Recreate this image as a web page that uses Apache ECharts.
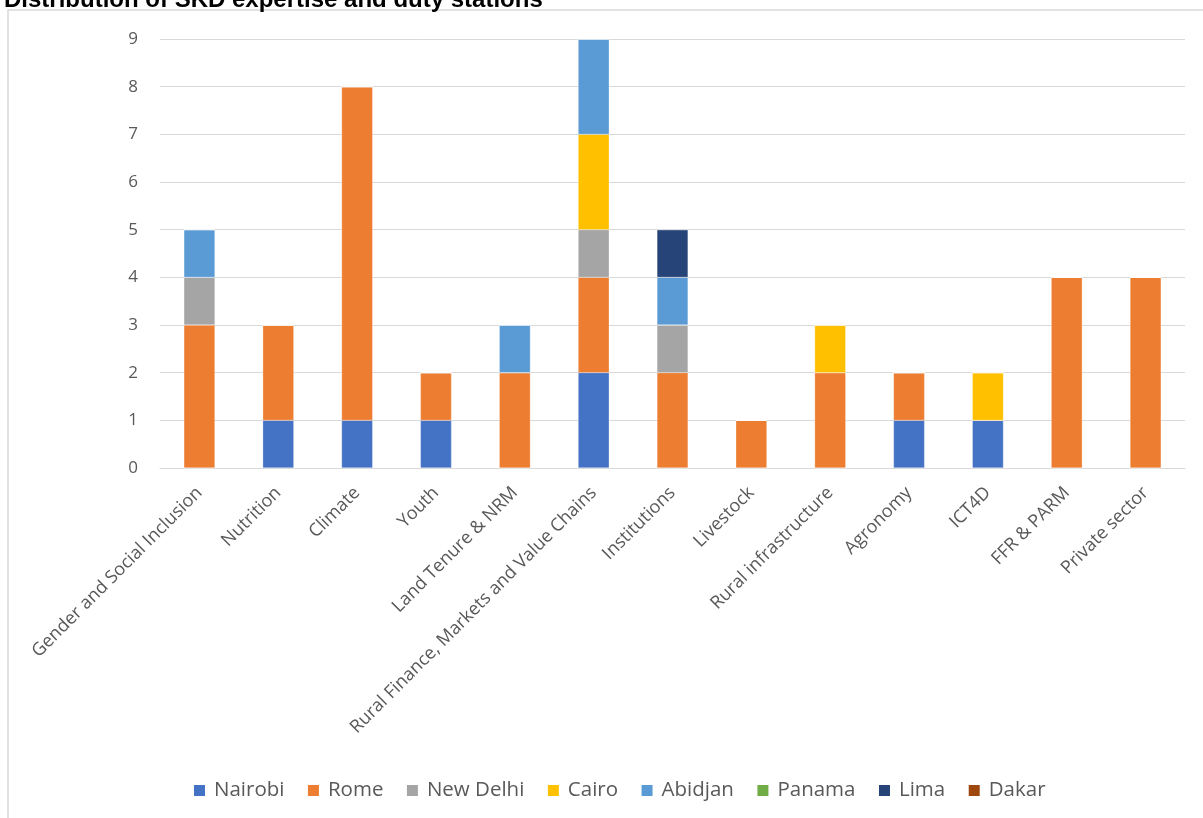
<!DOCTYPE html>
<html>
<head>
<meta charset="utf-8">
<script src="https://cdn.jsdelivr.net/npm/echarts@6/dist/echarts.min.js"></script>
<style>
  html, body { margin: 0; padding: 0; background: #fff; }
  #chart { width: 1203px; height: 818px; }
</style>
</head>
<body>
<div id="chart"></div>
<script>
// categories (areas of expertise)
let categories = ['Gender and Social Inclusion', 'Nutrition', 'Climate', 'Youth', 'Land Tenure & NRM',
    'Rural Finance, Markets and Value Chains', 'Institutions', 'Livestock', 'Rural infrastructure',
    'Agronomy', 'ICT4D', 'FFR & PARM', 'Private sector'];

// duty stations, one array each
let nairobi   = [0, 1, 1, 1, 0, 2, 0, 0, 0, 1, 1, 0, 0];
let rome      = [3, 2, 7, 1, 2, 2, 2, 1, 2, 1, 0, 4, 4];
let newDelhi  = [1, 0, 0, 0, 0, 1, 1, 0, 0, 0, 0, 0, 0];
let cairo     = [0, 0, 0, 0, 0, 2, 0, 0, 1, 0, 1, 0, 0];
let abidjan   = [1, 0, 0, 0, 1, 2, 1, 0, 0, 0, 0, 0, 0];
let panama    = [0, 0, 0, 0, 0, 0, 0, 0, 0, 0, 0, 0, 0];
let lima      = [0, 0, 0, 0, 0, 0, 1, 0, 0, 0, 0, 0, 0];
let dakar     = [0, 0, 0, 0, 0, 0, 0, 0, 0, 0, 0, 0, 0];

let stations = [
    { name: 'Nairobi', data: nairobi, color: '#4472C4' },
    { name: 'Rome', data: rome, color: '#ED7D31' },
    { name: 'New Delhi', data: newDelhi, color: '#A5A5A5' },
    { name: 'Cairo', data: cairo, color: '#FFC000' },
    { name: 'Abidjan', data: abidjan, color: '#5B9BD5' },
    { name: 'Panama', data: panama, color: '#70AD47' },
    { name: 'Lima', data: lima, color: '#264478' },
    { name: 'Dakar', data: dakar, color: '#9E480E' }
];

let chart = echarts.init(document.getElementById('chart'));

let option = {
    animation: false,
    title: {
        text: 'Distribution of SKD expertise and duty stations',
        left: -1,
        top: -17,
        textStyle: { fontFamily: 'Liberation Sans', fontWeight: 'bold', fontSize: 24, color: '#000' }
    },
    // outer chart frame
    graphic: [{
        type: 'rect',
        shape: { x: 8, y: 10, width: 1200, height: 820 },
        style: { fill: 'none', stroke: '#D9D9D9', lineWidth: 1.5 },
        silent: true
    }],
    legend: {
        bottom: 12,
        left: 187,
        itemWidth: 13,
        itemHeight: 13,
        itemGap: 21.5,
        icon: 'rect',
        textStyle: { fontFamily: 'Open Sans', fontSize: 20.5, color: '#595959', padding: [0, 0, 0, 3] },
        data: stations.map(s => s.name)
    },
    grid: { left: 160, right: 18, top: 39, bottom: 350, containLabel: false },
    xAxis: {
        type: 'category',
        data: categories,
        axisLine: { lineStyle: { color: '#D9D9D9', width: 1 } },
        axisTick: { show: false },
        axisLabel: {
            rotate: 45,
            interval: 0,
            margin: 22,
            fontFamily: 'Open Sans',
            fontSize: 18,
            color: '#595959'
        }
    },
    yAxis: {
        type: 'value',
        min: 0,
        max: 9,
        interval: 1,
        axisLine: { show: false },
        axisTick: { show: false },
        splitLine: { lineStyle: { color: '#D9D9D9', width: 1 } },
        axisLabel: { fontFamily: 'Open Sans', fontSize: 17, color: '#595959', margin: 22 }
    },
    series: stations.map(s => ({
        name: s.name,
        type: 'bar',
        stack: 'total',
        barWidth: 31,
        data: s.data,
        itemStyle: { color: s.color, borderColor: '#fff', borderWidth: 0.3 }
    }))
};

chart.setOption(option);
</script>
</body>
</html>
